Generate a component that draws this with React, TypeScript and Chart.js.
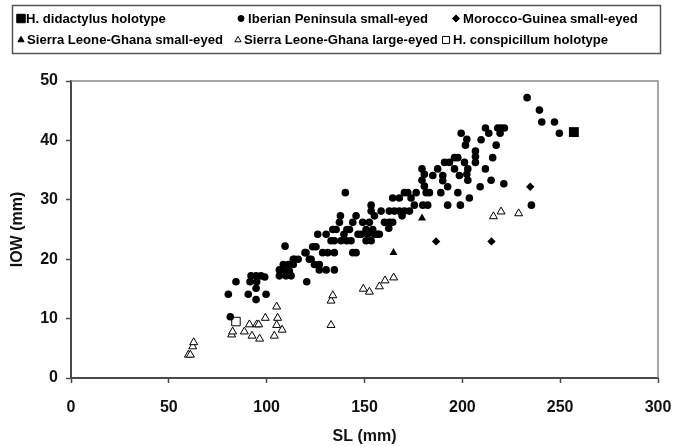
import React, { useEffect, useRef } from "react";
import { Chart, registerables } from "chart.js";

Chart.register(...registerables);

// ---- Data (SL mm, IOW mm) ----
const seriesNames = [
  "H. didactylus holotype",
  "Iberian Peninsula small-eyed",
  "Morocco-Guinea small-eyed",
  "Sierra Leone-Ghana small-eyed",
  "Sierra Leone-Ghana large-eyed",
  "H. conspicillum holotype",
];

const didactylusHolotype: [number, number][] = [[257, 41.4]];

const iberianSmallEyed: [number, number][] = [
  [81.4, 10.3], [80.4, 14.1], [84.3, 16.2], [90.6, 14.1], [94.6, 15.1], [94.6, 13.2], [99.7, 14.1],
  [92, 17.2], [94.6, 17.2], [97.1, 17.2], [99, 17.0], [91.5, 16.2], [94.9, 16.2], [120.5, 16.2],
  [106.5, 17.2], [109.9, 17.2], [112.5, 17.2], [106.5, 18.2], [108.5, 18.2], [108.5, 19.1],
  [111.1, 19.1], [113.6, 19.1], [113.6, 20], [116.1, 20], [119.6, 21.1], [123.5, 22.1], [125.2, 22.1],
  [109.4, 22.2], [121.8, 20], [124.4, 19.1], [126.9, 19.1], [126.9, 18.2], [130.4, 18.2], [134.6, 18.2],
  [126.1, 24.2], [130.4, 24.2], [132.9, 23.1], [134.6, 23.1], [128.6, 21.1], [131.2, 21.1], [134.6, 21.1],
  [120.1, 21.1], [111.6, 18.0], [114.2, 20.0], [122.7, 20.0],
  [135.5, 25], [137.2, 26.2], [137.7, 27.3], [140.2, 31.2], [139.5, 24.2], [140.9, 23.1], [142.3, 25],
  [144, 26.2], [145.7, 27.3], [144, 21.1], [145.7, 21.1], [149.1, 26.2], [152.5, 26.2], [155.1, 27.3],
  [153.4, 28.1], [133.8, 25], [150.8, 25], [154.2, 25], [148.3, 24.2], [151.6, 24.2], [155.1, 24.2],
  [157.6, 24.2], [160.2, 26.2], [162.7, 26.2], [164.4, 26.2], [162.4, 25.2], [138, 23.1], [143.1, 23.1],
  [150.8, 23.1], [153.4, 23.1], [141, 25], [146.7, 24.2], [156.7, 24.2],
  [153.4, 29.1], [158.5, 28.1], [162.7, 28.1], [165.3, 28.1], [167.8, 28.1], [170.4, 28.1], [173, 28.1],
  [164.4, 30.3], [167.8, 30.3], [170.4, 31.2], [172.1, 31.2], [173.8, 30.3], [176.4, 31.2], [175.5, 29.1],
  [179.8, 29.1], [182.3, 29.1], [181.5, 31.2], [183.2, 31.2], [169.2, 27.3],
  [179.4, 35.2], [180.6, 34.3], [179.4, 33.3], [180.6, 32.3], [184.9, 34.1], [187.4, 35.2], [190, 34.1],
  [189, 31.2], [190.9, 36.3], [193.4, 36.3], [196, 37.1], [197.7, 37.1], [201.1, 36.3], [202.8, 35.2],
  [202.3, 34.3], [202.8, 33.3], [196, 35.2], [198.5, 34.1], [192.5, 32.2], [197.7, 31.2], [203.6, 30.3],
  [209.1, 32.2], [214.7, 33.3], [221.2, 32.7], [192.5, 29.1], [199, 29.1], [190, 33.2],
  [199.4, 41.2], [202.3, 40.2], [201.6, 39.2], [209.6, 40.1], [211.8, 42.1], [213.5, 41.2], [218.1, 42.1],
  [219.8, 42.1], [221.5, 42.1], [219.3, 41.2], [217.3, 39.2], [206.7, 38.2], [206.7, 37.3], [206.7, 36.3],
  [215.5, 37.1], [211.8, 35.2],
  [233.1, 47.2], [239.4, 45.1], [240.6, 43.1], [247.1, 43.1], [249.6, 41.2], [235.3, 29.1],
];

const moroccoGuineaSmallEyed: [number, number][] = [
  [186.6, 23.0], [214.9, 23.0], [234.7, 32.2],
];

const sierraSmallEyed: [number, number][] = [
  [164.8, 21.1], [179.4, 26.9],
];

const sierraLargeEyed: [number, number][] = [
  [60, 3.9], [61, 3.9], [62.2, 5.3], [62.7, 6.0], [82.1, 7.3], [82.6, 7.8], [88.6, 7.8], [92.5, 7.1],
  [91.2, 9.0], [94.9, 9.0], [95.9, 9.0], [96.4, 6.6], [99.3, 10.1], [103.9, 7.1], [105.1, 12.0],
  [105.6, 10.1], [105.1, 8.9], [107.9, 8.1], [132.9, 8.9], [132.9, 13.0], [133.8, 13.9], [149.4, 15.0],
  [152.5, 14.5], [157.6, 15.4], [160.5, 16.4], [164.9, 16.9], [215.9, 27.2], [219.8, 28.0], [228.8, 27.7],
];

const conspicillumHolotype: [number, number][] = [[84.3, 9.5]];

const xTickValues = [0, 50, 100, 150, 200, 250, 300];
const yTickValues = [0, 10, 20, 30, 40, 50];
const xTitle = "SL (mm)";
const yTitle = "IOW (mm)";

// ---- Styles ----
const FONT = '"Liberation Sans", Arial, Helvetica, sans-serif';
const NARROW = '"Liberation Sans Narrow", "Liberation Sans", Arial, sans-serif';
const AXIS = "#4a4a4a";

type MarkerStyle = { shape: string; fill: boolean; size: number };
const markerStyles: MarkerStyle[] = [
  { shape: "square", fill: true, size: 7 },
  { shape: "circle", fill: true, size: 3.8 },
  { shape: "diamond", fill: true, size: 4.2 },
  { shape: "triangle", fill: true, size: 4.6 },
  { shape: "triangle", fill: false, size: 4.6 },
  { shape: "square", fill: false, size: 6 },
];

function drawMarker(ctx: CanvasRenderingContext2D, m: MarkerStyle, x: number, y: number, r: number) {
  ctx.beginPath();
  if (m.shape === "circle") {
    ctx.arc(x, y, r, 0, Math.PI * 2);
  } else if (m.shape === "square") {
    const s = r * Math.SQRT1_2;
    ctx.rect(x - s, y - s, 2 * s, 2 * s);
  } else if (m.shape === "diamond") {
    ctx.moveTo(x, y - r);
    ctx.lineTo(x + r, y);
    ctx.lineTo(x, y + r);
    ctx.lineTo(x - r, y);
    ctx.closePath();
  } else {
    const h = r * 1.5;
    const half = (r * Math.sqrt(3)) / 2;
    ctx.moveTo(x, y - r);
    ctx.lineTo(x + half, y + h - r);
    ctx.lineTo(x - half, y + h - r);
    ctx.closePath();
  }
  ctx.fillStyle = m.fill ? "#000" : "#fff";
  ctx.fill();
  ctx.lineWidth = 1;
  ctx.strokeStyle = "#000";
  ctx.stroke();
}

const legendLayout = [
  { mx: 21, tx: 26, row: 0 },
  { mx: 241, tx: 248, row: 0 },
  { mx: 456, tx: 463, row: 0 },
  { mx: 21, tx: 27, row: 1 },
  { mx: 238, tx: 244, row: 1 },
  { mx: 446, tx: 453, row: 1 },
];

const legendPlugin = {
  id: "boxLegend",
  afterDraw(chart: any) {
    const ctx: CanvasRenderingContext2D = chart.ctx;
    ctx.save();
    ctx.strokeStyle = "#555";
    ctx.lineWidth = 1.5;
    ctx.strokeRect(12.5, 5.5, 648, 48);
    ctx.font = `bold 16px ${NARROW}`;
    const w = ctx.measureText(seriesNames[1]).width;
    const size = (16 * 180) / w;
    ctx.font = `bold ${size.toFixed(2)}px ${NARROW}`;
    ctx.textBaseline = "middle";
    ctx.textAlign = "left";
    const rows = [18.5, 40];
    seriesNames.forEach((name, i) => {
      const L = legendLayout[i];
      const m = markerStyles[i];
      const r = m.shape === "square" ? (m.fill ? 6 : 5) : m.shape === "circle" ? 3 : 3.6;
      drawMarker(ctx, m, L.mx, rows[L.row], r);
      ctx.fillStyle = "#000";
      ctx.fillText(name, L.tx, rows[L.row] + 0.5);
    });
    ctx.restore();
  },
};

const framePlugin = {
  id: "frame",
  beforeDatasetsDraw(chart: any) {
    const { ctx, chartArea } = chart;
    ctx.save();
    ctx.strokeStyle = "#8a8a8a";
    ctx.lineWidth = 1.5;
    ctx.beginPath();
    ctx.moveTo(chartArea.left, chartArea.top);
    ctx.lineTo(chartArea.right, chartArea.top);
    ctx.lineTo(chartArea.right, chartArea.bottom);
    ctx.stroke();
    ctx.restore();
  },
};

function toPoints(arr: [number, number][]) {
  return arr.map(([x, y]) => ({ x, y }));
}

const pointStyleMap: Record<string, string> = {
  circle: "circle",
  square: "rect",
  diamond: "rectRot",
  triangle: "triangle",
};

export default function App() {
  const canvasRef = useRef<HTMLCanvasElement>(null);

  useEffect(() => {
    if (!canvasRef.current) return;
    const allData = [
      didactylusHolotype,
      iberianSmallEyed,
      moroccoGuineaSmallEyed,
      sierraSmallEyed,
      sierraLargeEyed,
      conspicillumHolotype,
    ];
    const datasets = allData.map((d, i) => {
      const m = markerStyles[i];
      return {
        label: seriesNames[i],
        data: toPoints(d),
        pointStyle: pointStyleMap[m.shape],
        pointRadius: m.size,
        pointBackgroundColor: m.fill ? "#000" : "#fff",
        pointBorderColor: "#000",
        pointBorderWidth: m.fill ? 0 : 1,
        showLine: false,
      };
    });

    const chart = new Chart(canvasRef.current, {
      type: "scatter",
      data: { datasets } as any,
      plugins: [framePlugin, legendPlugin],
      options: {
        animation: false,
        responsive: false,
        devicePixelRatio: 1,
        layout: { padding: { left: 0, right: 22, top: 81, bottom: 0 } },
        plugins: {
          legend: { display: false },
          tooltip: { enabled: false },
        },
        scales: {
          x: {
            type: "linear",
            min: 0,
            max: 300,
            afterBuildTicks: (scale: any) => {
              scale.ticks = xTickValues.map((v) => ({ value: v }));
            },
            afterFit: (scale: any) => {
              scale.height = 68;
              scale.paddingLeft = 0;
              scale.paddingRight = 0;
            },
            grid: {
              display: true,
              drawOnChartArea: false,
              drawTicks: true,
              tickLength: 5,
              tickWidth: 1.5,
              color: AXIS,
            },
            border: { display: true, color: AXIS, width: 2 },
            ticks: {
              color: "#111",
              font: { family: FONT, size: 16, weight: "bold" },
              padding: 15,
              maxRotation: 0,
            },
            title: {
              display: true,
              text: xTitle,
              color: "#111",
              font: { family: FONT, size: 16, weight: "bold" },
              padding: { top: 0, bottom: 0 },
            },
          },
          y: {
            type: "linear",
            min: 0,
            max: 50,
            afterBuildTicks: (scale: any) => {
              scale.ticks = yTickValues.map((v) => ({ value: v }));
            },
            afterFit: (scale: any) => {
              scale.width = 71;
            },
            grid: {
              display: true,
              drawOnChartArea: false,
              drawTicks: true,
              tickLength: 5,
              tickWidth: 1.5,
              color: AXIS,
            },
            border: { display: true, color: AXIS, width: 2 },
            ticks: {
              color: "#111",
              font: { family: FONT, size: 16, weight: "bold" },
              padding: 8,
            },
            title: {
              display: true,
              text: yTitle,
              color: "#111",
              font: { family: FONT, size: 16, weight: "bold" },
              padding: { top: 8, bottom: 0 },
            },
          },
        },
      } as any,
    });
    return () => chart.destroy();
  }, []);

  return (
    <div style={{ position: "fixed", left: 0, top: 0, width: 680, height: 446, background: "#fff" }}>
      <canvas ref={canvasRef} width={680} height={446} style={{ width: 680, height: 446, display: "block" }} />
    </div>
  );
}
